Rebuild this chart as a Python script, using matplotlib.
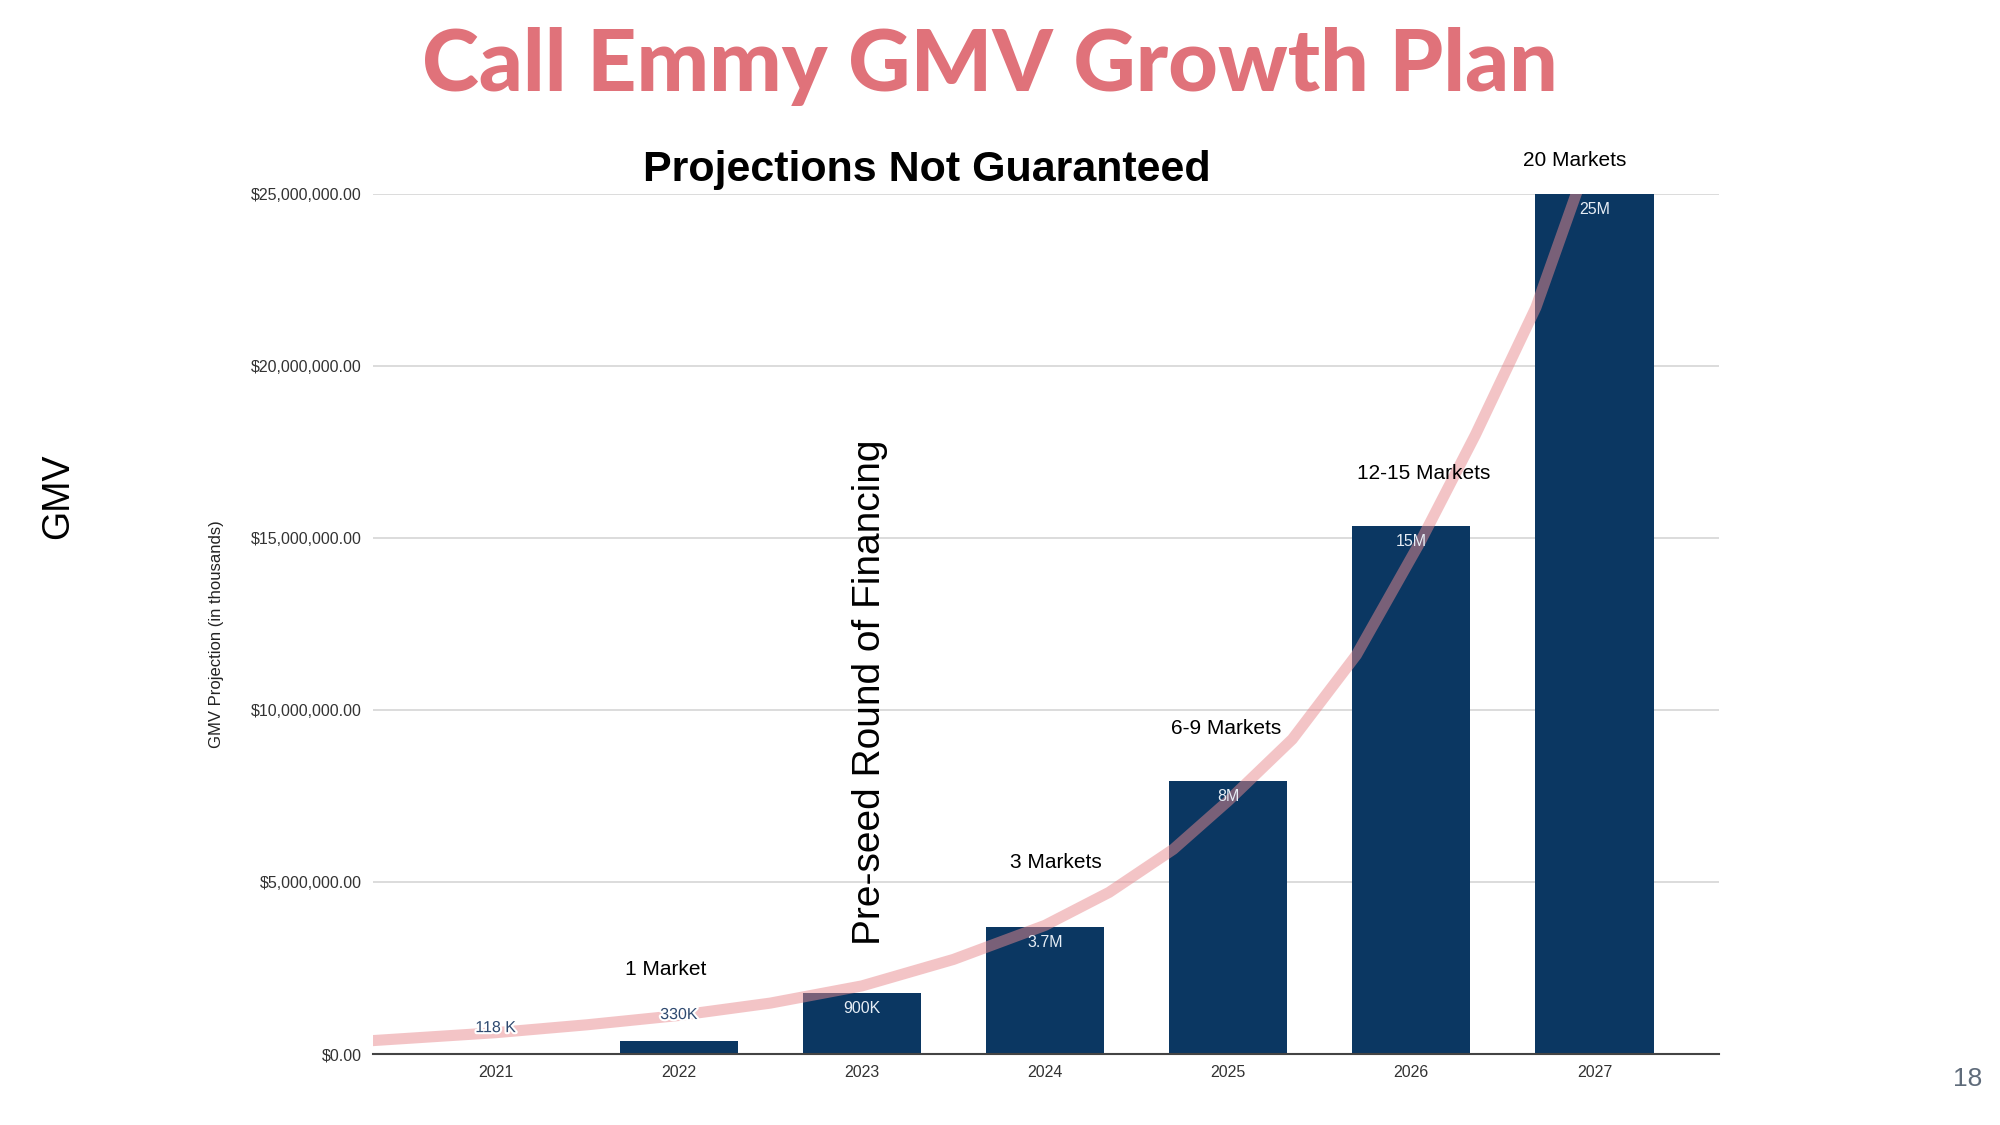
import numpy as np
import matplotlib
matplotlib.use('Agg')
import matplotlib.pyplot as plt
import matplotlib.patheffects as pe

# data
years = ['2021', '2022', '2023', '2024', '2025', '2026', '2027']
gmv = [0.0, 0.38e6, 1.78e6, 3.7e6, 7.95e6, 15.35e6, 25.0e6]
bar_labels = ['118 K', '330K', '900K', '3.7M', '8M', '15M', '25M']
market_text = ['1 Market', '3 Markets', '6-9 Markets', '12-15 Markets', '20 Markets']
market_x = [0.93, 3.06, 3.99, 5.07, 5.89]
market_y = [2.45e6, 5.57e6, 9.45e6, 16.87e6, 25.98e6]

# trend curve
trend_x = [-0.7, 0, 0.5, 1, 1.5, 2, 2.5, 3, 3.35, 3.7, 4, 4.35, 4.7,
           5.05, 5.35, 5.68, 5.92]
trend_y = [0.38e6, 0.62e6, 0.85e6, 1.12e6, 1.48e6, 1.98e6, 2.75e6, 3.74e6,
           4.70e6, 5.95e6, 7.36e6, 9.15e6, 11.6e6, 14.9e6, 18.0e6, 21.7e6,
           25.3e6]

yticks = [0, 5e6, 10e6, 15e6, 20e6, 25e6]

navy = '#0b3762'
arial = 'Liberation Sans'

fig = plt.figure(figsize=(20, 11.25), dpi=100)
ax = fig.add_axes([0.1865, 0.0631, 0.673, 0.7645])

x = np.arange(len(years))
bars = ax.bar(x, gmv, width=0.645, color=navy, zorder=2)

ax.plot(trend_x, trend_y, color='#e88a8f', alpha=0.5, lw=8,
        solid_capstyle='butt', solid_joinstyle='round', zorder=3)

for i, (v, lab) in enumerate(zip(gmv, bar_labels)):
    if v > 1e6:
        ax.annotate(lab, (i, v), xytext=(0, -11.5), textcoords='offset points',
                    ha='center', va='center', color='#e6edf5', fontsize=11.5,
                    family=arial, zorder=4)
    else:
        ax.annotate(lab, (i, v), xytext=(0, 19), textcoords='offset points',
                    ha='center', va='center', color='#2f4a70', fontsize=11.5,
                    family=arial, zorder=4,
                    path_effects=[pe.withStroke(linewidth=3, foreground='white')])

for t, mx, my in zip(market_text, market_x, market_y):
    ax.text(mx, my, t, ha='center', va='center', fontsize=15, family=arial,
            color='black', clip_on=False, zorder=5)

ax.set_xlim(-0.67, 6.68)
ax.set_ylim(0, 25e6)
ax.set_xticks(x)
ax.set_xticklabels(years, family=arial, fontsize=11.5, color='#333333')
ax.set_yticks(yticks)
ax.set_yticklabels(['${:,.2f}'.format(v) for v in yticks], family=arial,
                   fontsize=11.5, color='#333333')
ax.tick_params(length=0, pad=8)
ax.yaxis.grid(True, color='#d9d9d9', lw=1.3, zorder=0)
ax.set_axisbelow(True)
for s in ['top', 'right', 'left']:
    ax.spines[s].set_visible(False)
ax.spines['bottom'].set_color('#444444')
ax.spines['bottom'].set_linewidth(1.5)
ax.spines['bottom'].set_zorder(3)

fig.text(0.1085, 0.436, 'GMV Projection (in thousands)', ha='center',
         va='center', rotation=90, family=arial, fontsize=12, color='#222222')

# slide texts
fig.text(0.495, 0.919, 'Call Emmy GMV Growth Plan', ha='center', va='baseline',
         fontsize=62, fontweight='black', family='Lato', color='#e0727a')
fig.text(0.4635, 0.839, 'Projections Not Guaranteed', ha='center', va='baseline',
         fontsize=31, fontweight='bold', family=arial, color='black')
fig.text(0.435, 0.385, 'Pre-seed Round of Financing', ha='center', va='center',
         rotation=90, fontsize=28, family=arial, color='black')
fig.text(0.029, 0.559, 'GMV', ha='center', va='center', rotation=90,
         fontsize=27, family=arial, color='black')
fig.text(0.984, 0.041, '18', ha='center', va='center', fontsize=19,
         family=arial, color='#5f6b7a')

fig.savefig('out.png', dpi=100, facecolor='white')
